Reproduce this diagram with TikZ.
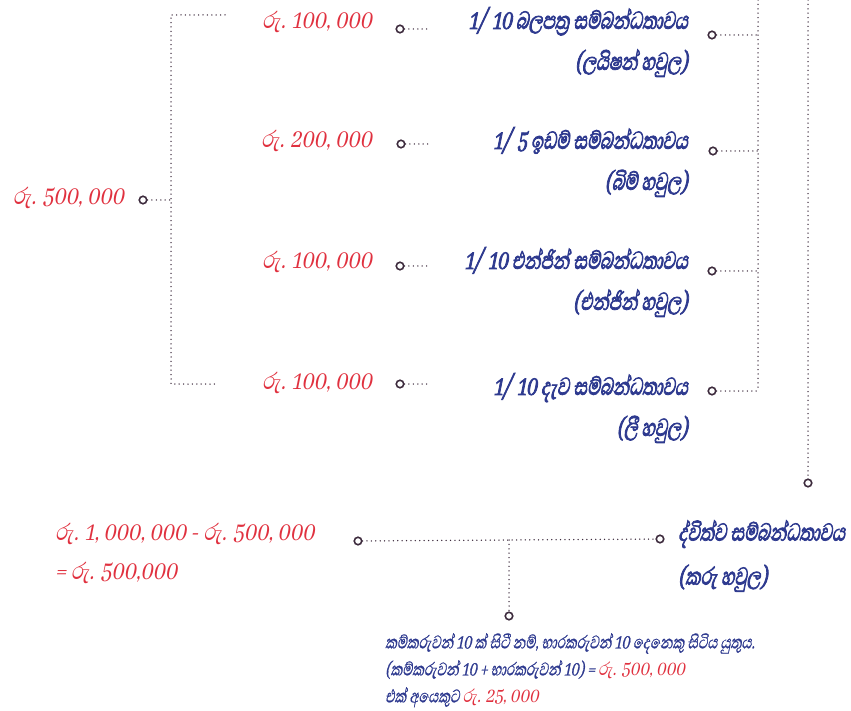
\documentclass[tikz,border=0pt]{standalone}
\usepackage{xcolor}
\usepackage{fontspec}
\usepackage{tikz}
\usetikzlibrary{positioning}
\newfontfamily\sinfont[Script=Sinhala, FakeSlant=0.2, FakeStretch=0.8]{Abhaya Libre}
\newfontfamily\sinbold[Script=Sinhala, FakeSlant=0.2, FakeStretch=0.68, FakeBold=2.4]{Abhaya Libre}
\newfontfamily\sinmid[Script=Sinhala, FakeSlant=0.2, FakeStretch=0.7, FakeBold=0.7]{Abhaya Libre}
\definecolor{rsred}{HTML}{E0313F}
\definecolor{relblue}{HTML}{2E3A8F}
\definecolor{linkgray}{HTML}{3D2B3D}

\begin{document}
\begin{tikzpicture}[
    x=1pt, y=-1pt,
    % Define styles for the texts, the dots and the links
    amount/.style={text=rsred, inner sep=0pt, font=\sinfont\fontsize{30}{39}\selectfont},
    relation/.style={text=relblue, align=right, inner sep=0pt, font=\sinbold\fontsize{31.5}{41}\selectfont},
    note/.style={text=relblue, align=left, inner sep=0pt, font=\sinmid\fontsize{23.5}{27}\selectfont},
    hole/.style={circle, draw=linkgray, line width=1.6pt, fill=white, minimum size=7.5pt, inner sep=0pt},
    link/.style={draw=linkgray, line width=1.5pt, line cap=round, dash pattern=on 0pt off 4.4pt}
]
    \useasboundingbox (0,0) rectangle (851,711);

    % Define the nodes
    \node[amount, anchor=east] (total) at (124,198) {රු. 500, 000};
    \node[hole] (totaldot) at (143,200) {};

    \node[amount, anchor=east] (amt1) at (372,22) {රු. 100, 000};
    \node[amount, anchor=east] (amt2) at (372,141) {රු. 200, 000};
    \node[amount, anchor=east] (amt3) at (372,262) {රු. 100, 000};
    \node[amount, anchor=east] (amt4) at (372,383) {රු. 100, 000};

    \node[hole] (amt1dot) at (400,29) {};
    \node[hole] (amt2dot) at (401,144) {};
    \node[hole] (amt3dot) at (400,266) {};
    \node[hole] (amt4dot) at (400,384) {};

    \node[relation, anchor=east] (rel1) at (688,42) {1/\hspace{6pt}10 බලපත්‍ර සම්බන්ධතාවය\\(ලයිෂන් හවුල)};
    \node[relation, anchor=east] (rel2) at (688,162) {1/\hspace{6pt}5 ඉඩම් සම්බන්ධතාවය\\(බිම් හවුල)};
    \node[relation, anchor=east] (rel3) at (688,282) {1/\hspace{6pt}10 එන්ජින් සම්බන්ධතාවය\\(එන්ජින් හවුල)};
    \node[relation, anchor=east] (rel4) at (688,408) {1/\hspace{6pt}10 දැව සම්බන්ධතාවය\\(ලී හවුල)};

    \node[hole] (rel1dot) at (712,35) {};
    \node[hole] (rel2dot) at (713,151) {};
    \node[hole] (rel3dot) at (712,271) {};
    \node[hole] (rel4dot) at (712,391) {};

    \node[hole] (dualtop) at (808,483) {};
    \node[relation, anchor=west, align=left, font=\sinbold\fontsize{31.5}{44}\selectfont] (dual) at (678,556) {ද්විත්ව සම්බන්ධතාවය\\(කරු හවුල)};
    \node[hole] (dualdot) at (660,539) {};

    \node[amount, anchor=west, align=left] (balance) at (55,553) {රු. 1, 000, 000 - රු. 500, 000\\= රු. 500,000};
    \node[hole] (balancedot) at (358,541) {};

    \node[hole] (notedot) at (509,616) {};
    \node[note, anchor=north west] (workers) at (385,633) {කම්කරුවන් 10 ක් සිටී නම්, භාරකරුවන් 10 දෙනෙකු සිටිය යුතුය.\\(කම්කරුවන් 10 + භාරකරුවන් 10) = \textcolor{rsred}{\sinfont රු. 500, 000}\\එක් අයෙකුට \textcolor{rsred}{\sinfont රු. 25, 000}};

    % Define the free ends of the brackets
    \coordinate (ltop) at (171,15);
    \coordinate (lbot) at (171,384);
    \coordinate (ltopend) at (225,15);
    \coordinate (lbotend) at (216,384);
    \coordinate (rtop) at (758,0);
    \coordinate (dualup) at (808,0);
    \coordinate (amt1end) at (429,29);
    \coordinate (amt2end) at (429,144);
    \coordinate (amt3end) at (429,266);
    \coordinate (amt4end) at (429,384);
    \coordinate (split) at (509,540);

    % Draw the dotted links
    \draw[link] (ltopend) -- (ltop) -- (lbot) -- (lbotend);
    \draw[link] (totaldot) -- (totaldot -| ltop);

    \draw[link] (amt1dot) -- (amt1end);
    \draw[link] (amt2dot) -- (amt2end);
    \draw[link] (amt3dot) -- (amt3end);
    \draw[link] (amt4dot) -- (amt4end);

    \draw[link] (rtop) -- (rel4dot -| rtop);
    \draw[link] (rel1dot) -- (rel1dot -| rtop);
    \draw[link] (rel2dot) -- (rel2dot -| rtop);
    \draw[link] (rel3dot) -- (rel3dot -| rtop);
    \draw[link] (rel4dot) -- (rel4dot -| rtop);

    \draw[link] (dualup) -- (dualtop);
    \draw[link] (balancedot) -- (dualdot);
    \draw[link] (split) -- (notedot);
\end{tikzpicture}
\end{document}
